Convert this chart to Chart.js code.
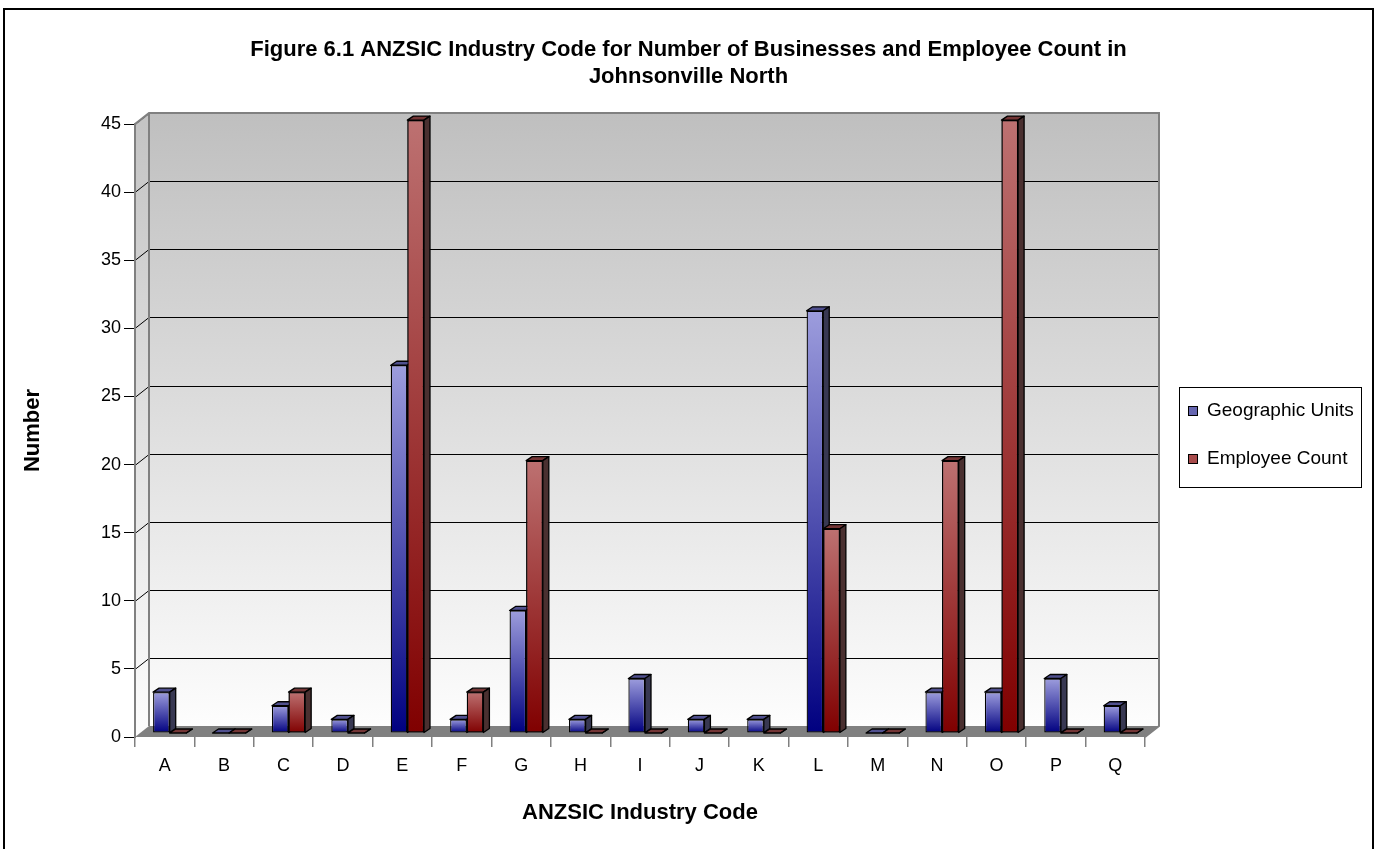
<!DOCTYPE html>
<html>
<head>
<meta charset="utf-8">
<script src="https://cdn.jsdelivr.net/npm/chart.js@4.4.1/dist/chart.umd.min.js"></script>
<style>
  html, body { margin: 0; padding: 0; background: #fff; }
  #wrap { width: 1377px; height: 849px; }
</style>
</head>
<body>
<div id="wrap"><canvas id="myChart" width="1377" height="849"></canvas></div>
<script>
// data
const codes = ['A', 'B', 'C', 'D', 'E', 'F', 'G', 'H', 'I', 'J', 'K', 'L', 'M', 'N', 'O', 'P', 'Q'];
const geographicUnits = [3, 0, 2, 1, 27, 1, 9, 1, 4, 1, 1, 31, 0, 3, 3, 4, 2];
const employeeCount = [0, 0, 3, 0, 45, 3, 20, 0, 0, 0, 0, 15, 0, 20, 45, 0, 0];
const seriesNames = ['Geographic Units', 'Employee Count'];
const yMin = 0, yMax = 45, yStep = 5;
const titleLines = [
  'Figure 6.1 ANZSIC Industry Code for Number of Businesses and Employee Count in',
  'Johnsonville North'
];

const FONT = "'Liberation Sans', Arial, sans-serif";

// 3d offsets (pixels)
const WALL_DX = 14, WALL_DY = -11;   // back wall vs front plane
const BAR_DX = 5, BAR_DY = -4;       // bars sit in the middle
const DEPTH_X = 6, DEPTH_Y = -4;     // bar thickness

const blue = {top: '#9d9ddd', bottom: '#000080', cap: '#50508f', side: '#383852', key: '#6666b0'};
const red = {top: '#bd7171', bottom: '#800000', cap: '#733535', side: '#4a3030', key: '#a84c4c'};

function barFill(c, col) {
  const chart = c.chart;
  const y = chart.scales.y;
  if (!chart.chartArea || !y || c.type !== 'data') return col.top;
  const y0 = y.getPixelForValue(0);
  const y1 = y.getPixelForValue(c.parsed.y);
  if (!isFinite(y0) || !isFinite(y1) || y0 - y1 < 1) return col.bottom;
  const g = chart.ctx.createLinearGradient(0, y1, 0, y0);
  g.addColorStop(0, col.top);
  g.addColorStop(1, col.bottom);
  return g;
}

function poly(ctx, pts, fill, stroke, lw) {
  ctx.beginPath();
  ctx.moveTo(pts[0][0], pts[0][1]);
  for (let i = 1; i < pts.length; i++) ctx.lineTo(pts[i][0], pts[i][1]);
  ctx.closePath();
  if (fill) { ctx.fillStyle = fill; ctx.fill(); }
  if (stroke) { ctx.strokeStyle = stroke; ctx.lineWidth = lw || 1; ctx.stroke(); }
}

function barFaces(ctx, el, col) {
  const {x, y, base, width} = el.getProps(['x', 'y', 'base', 'width'], true);
  const l = x - width / 2, r = x + width / 2;
  ctx.lineJoin = 'round';
  poly(ctx, [[l, y], [r, y], [r + DEPTH_X, y + DEPTH_Y], [l + DEPTH_X, y + DEPTH_Y]], col.cap, '#000', 1.3);
  poly(ctx, [[r, y], [r + DEPTH_X, y + DEPTH_Y], [r + DEPTH_X, base + DEPTH_Y], [r, base]], col.side, '#000', 1.3);
}

const threeD = {
  id: 'threeD',
  beforeDraw(chart) {
    const {ctx, chartArea: a, scales: {y}} = chart;
    const bl = a.left + WALL_DX, br = a.right + WALL_DX;
    const bt = a.top + WALL_DY, bb = a.bottom + WALL_DY;
    ctx.save();
    // outer frame
    ctx.strokeStyle = '#000';
    ctx.lineWidth = 2;
    ctx.strokeRect(4, 9, 1369, 850);
    // back wall
    let g = ctx.createLinearGradient(0, bt, 0, bb);
    g.addColorStop(0, '#bfbfbf');
    g.addColorStop(1, '#fdfdfd');
    ctx.fillStyle = g;
    ctx.fillRect(bl, bt, br - bl, bb - bt);
    // side wall
    g = ctx.createLinearGradient(0, a.top, 0, a.bottom);
    g.addColorStop(0, '#c4c4c4');
    g.addColorStop(1, '#fdfdfd');
    poly(ctx, [[a.left, a.bottom], [a.left, a.top], [bl, bt], [bl, bb]], g);
    // floor
    poly(ctx, [[a.left, a.bottom], [a.right, a.bottom], [br, bb], [bl, bb]], '#808080');
    // gridlines
    ctx.strokeStyle = '#000';
    ctx.lineWidth = 1;
    y.ticks.forEach(t => {
      if (t.value === yMin) return;
      const py = Math.round(y.getPixelForValue(t.value)) + 0.5;
      ctx.beginPath();
      ctx.moveTo(a.left, py);
      ctx.lineTo(bl, py + WALL_DY);
      ctx.lineTo(br, py + WALL_DY);
      ctx.stroke();
    });
    // wall edges
    ctx.strokeStyle = '#808080';
    ctx.lineWidth = 2;
    ctx.beginPath();
    ctx.moveTo(a.left, a.top);
    ctx.lineTo(bl, bt);
    ctx.lineTo(br, bt);
    ctx.lineTo(br, bb);
    ctx.lineTo(a.right, a.bottom);
    ctx.moveTo(bl, bt);
    ctx.lineTo(bl, bb);
    ctx.stroke();
    ctx.restore();
  },
  beforeDatasetsDraw(chart) {
    chart.ctx.save();
    chart.ctx.translate(BAR_DX, BAR_DY);
  },
  afterDatasetsDraw(chart) {
    const ctx = chart.ctx;
    const m0 = chart.getDatasetMeta(0), m1 = chart.getDatasetMeta(1);
    for (let i = 0; i < codes.length; i++) {
      barFaces(ctx, m0.data[i], blue);
      m1.data[i].draw(ctx);
      barFaces(ctx, m1.data[i], red);
    }
    ctx.restore();
  },
  afterDraw(chart) {
    const ctx = chart.ctx;
    ctx.save();
    // legend box
    ctx.strokeStyle = '#000';
    ctx.lineWidth = 1;
    ctx.strokeRect(1179.5, 387.5, 182, 100);
    ctx.font = '19px ' + FONT;
    ctx.textBaseline = 'middle';
    [blue, red].forEach((col, i) => {
      const cy = 411 + i * 48;
      ctx.fillStyle = col.key;
      ctx.fillRect(1188, cy - 5, 10, 10);
      ctx.strokeStyle = '#000';
      ctx.strokeRect(1188.5, cy - 4.5, 9, 9);
      ctx.fillStyle = '#000';
      ctx.fillText(seriesNames[i], 1207, cy);
    });
    ctx.restore();
  }
};

new Chart('myChart', {
  type: 'bar',
  data: {
    labels: codes,
    datasets: [
      {
        label: seriesNames[0],
        data: geographicUnits,
        backgroundColor: c => barFill(c, blue),
        borderColor: '#000',
        borderWidth: 1.3,
        borderSkipped: false,
        clip: false,
        categoryPercentage: 0.56,
        barPercentage: 1
      },
      {
        label: seriesNames[1],
        data: employeeCount,
        backgroundColor: c => barFill(c, red),
        borderColor: '#000',
        borderWidth: 1.3,
        borderSkipped: false,
        clip: false,
        categoryPercentage: 0.56,
        barPercentage: 1
      }
    ]
  },
  options: {
    responsive: false,
    animation: false,
    devicePixelRatio: 1,
    layout: {padding: 0},
    plugins: {
      legend: {display: false},
      tooltip: {enabled: false},
      title: {
        display: true,
        text: titleLines,
        color: '#000',
        font: {family: FONT, size: 22, weight: 'bold', lineHeight: 1.23},
        padding: {top: 36, bottom: 34}
      }
    },
    scales: {
      x: {
        grid: {offset: true, drawOnChartArea: false, tickLength: 10, color: '#808080', lineWidth: 1.5},
        border: {display: false},
        ticks: {color: '#000', font: {family: FONT, size: 18}, padding: 8, maxRotation: 0},
        title: {
          display: true,
          text: 'ANZSIC Industry Code',
          color: '#000',
          font: {family: FONT, size: 22, weight: 'bold'},
          padding: {top: 0, bottom: 23}
        },
        afterFit: s => { s.height = 112; }
      },
      y: {
        min: yMin,
        max: yMax,
        ticks: {stepSize: yStep, color: '#000', font: {family: FONT, size: 18}, padding: 3},
        grid: {drawOnChartArea: false, tickLength: 11, color: '#000', lineWidth: 1},
        border: {color: '#808080', width: 2},
        title: {
          display: true,
          text: 'Number',
          color: '#000',
          font: {family: FONT, size: 22, weight: 'bold'},
          padding: {top: 20, bottom: 0}
        },
        afterFit: s => { s.width = 135; }
      },
      // empty right-hand axis that just keeps room for the legend
      gap: {
        type: 'linear',
        position: 'right',
        display: true,
        grid: {display: false, drawTicks: false},
        border: {display: false},
        ticks: {display: false},
        afterFit: s => { s.width = 232; }
      }
    }
  },
  plugins: [threeD]
});
</script>
</body>
</html>
